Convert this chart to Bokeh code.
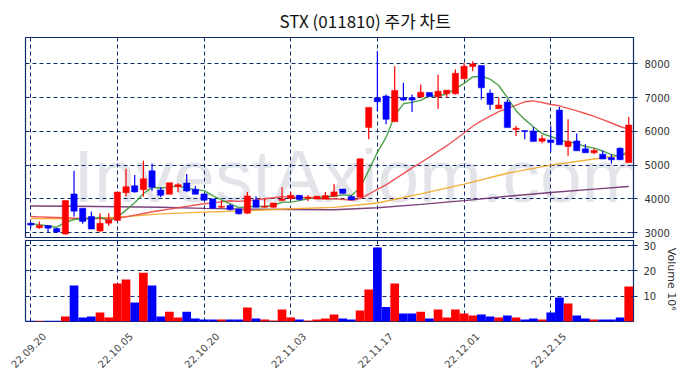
import math
from bokeh.plotting import figure
from bokeh.layouts import column
from bokeh.models import ColumnDataSource, FixedTicker, Range1d, Label, LinearAxis
from bokeh.embed import file_html
from bokeh.resources import INLINE

# ---------------- data ----------------
dates = ["22.09.20", "22.09.21", "22.09.22", "22.09.23", "22.09.26", "22.09.27", "22.09.28", "22.09.29", "22.09.30",
         "22.10.04", "22.10.05", "22.10.06", "22.10.07", "22.10.11", "22.10.12", "22.10.13", "22.10.14", "22.10.17",
         "22.10.18", "22.10.19", "22.10.20", "22.10.21", "22.10.24", "22.10.25", "22.10.26", "22.10.27", "22.10.28",
         "22.10.31", "22.11.01", "22.11.02", "22.11.03", "22.11.04", "22.11.07", "22.11.08", "22.11.09", "22.11.10",
         "22.11.11", "22.11.14", "22.11.15", "22.11.16", "22.11.17", "22.11.18", "22.11.21", "22.11.22", "22.11.23",
         "22.11.24", "22.11.25", "22.11.28", "22.11.29", "22.11.30", "22.12.01", "22.12.02", "22.12.05", "22.12.06",
         "22.12.07", "22.12.08", "22.12.09", "22.12.12", "22.12.13", "22.12.14", "22.12.15", "22.12.16", "22.12.19",
         "22.12.20", "22.12.21", "22.12.22", "22.12.23", "22.12.26", "22.12.27", "22.12.28"]

opens = [3285, 3147, 3216, 3128, 2961, 4148, 3726, 3481, 3049, 3285,
         3363, 4187, 4393, 4275, 4834, 4265, 4138, 4364, 4471, 4285,
         4148, 4001, 3755, 3804, 3706, 3579, 3971, 3755, 3755, 3952,
         4010, 4109, 4020, 4001, 4001, 4079, 4295, 4069, 4050, 6110,
         6993, 7042, 6286, 6993, 6993, 7012, 7150, 7022, 7110, 7110,
         7552, 7915, 7944, 7130, 6669, 6865, 6051, 6021, 6012, 5708,
         5747, 6630, 5551, 5717, 5482, 5364, 5325, 5227, 5502, 5080]
closes = [3226, 3216, 3137, 3020, 3952, 3638, 3334, 3108, 3285, 3383,
          4207, 4364, 4207, 4599, 4344, 4109, 4481, 4422, 4236, 4138,
          3961, 3726, 3785, 3687, 3559, 4089, 3755, 3785, 3883, 4001,
          4109, 3981, 4060, 4079, 4099, 4207, 4158, 3971, 5188, 6708,
          6875, 6355, 7209, 6924, 6924, 7159, 7032, 7189, 7218, 7719,
          7925, 7993, 7287, 6796, 6777, 6110, 6090, 5992, 5698, 5786,
          5668, 5600, 5698, 5423, 5364, 5433, 5178, 5158, 5158, 6188]
highs = [3310, 3334, 3216, 3140, 3952, 4835, 3726, 3628, 3579, 3579,
         4207, 4893, 4707, 5129, 5050, 4344, 4481, 4462, 4736, 4383,
         4148, 4001, 3952, 3853, 3706, 4207, 4079, 4001, 3883, 4344,
         4216, 4109, 4118, 4079, 4207, 4442, 4295, 4099, 5188, 6708,
         8366, 7091, 7925, 7434, 7091, 7385, 7150, 7679, 7218, 7827,
         8023, 8072, 7944, 7238, 6993, 6944, 6159, 6021, 6129, 5894,
         6159, 6718, 6355, 5933, 5619, 5502, 5423, 5325, 5521, 6424]
lows = [3150, 3118, 3020, 3010, 2941, 3481, 3265, 3108, 3029, 3206,
        3343, 4069, 4187, 4069, 4246, 4050, 4138, 4197, 4197, 4138,
        3961, 3726, 3736, 3657, 3540, 3559, 3755, 3746, 3740, 3952,
        3981, 3952, 3932, 4001, 4001, 4069, 4158, 3971, 4050, 5766,
        6600, 6208, 6286, 6895, 6571, 7012, 7032, 6669, 6993, 7091,
        7552, 7777, 6944, 6630, 6669, 6110, 5865, 5766, 5698, 5649,
        5403, 5600, 5276, 5423, 5364, 5325, 5178, 5050, 5158, 5080]
volumes = [0.3, 0.3, 0.3, 0.3, 2.0, 14.2, 1.6, 2.0, 3.6, 1.6,
           15.0, 16.6, 7.5, 19.3, 14.2, 2.0, 3.9, 1.6, 3.9, 1.2,
           0.8, 0.8, 0.8, 0.8, 0.8, 5.5, 1.2, 0.8, 0.4, 4.7,
           1.6, 0.8, 0.4, 0.8, 1.2, 2.8, 1.2, 0.8, 4.3, 12.6,
           29.2, 5.7, 15.0, 3.2, 3.2, 3.9, 1.2, 4.7, 1.6, 4.7,
           3.2, 2.4, 2.8, 2.0, 1.6, 2.4, 1.6, 0.8, 1.2, 0.8,
           3.6, 9.5, 7.1, 2.4, 1.2, 0.8, 0.8, 0.8, 1.6, 13.8]

# moving-average values before enough history is in the window
ma5_head = [3265, 3240, 3200, 3165]
ma20_head = [3480, 3470, 3460, 3450, 3440, 3430, 3420, 3420, 3420, 3420,
             3430, 3470, 3520, 3570, 3620, 3660, 3700, 3740, 3780]
ma60_idx = [0, 5, 10, 15, 20, 25, 30, 35, 40, 45, 50, 55, 60, 65, 69]
ma60_val = [3420, 3410, 3460, 3560, 3610, 3650, 3710, 3750, 3880, 4150, 4440, 4760, 5000, 5180, 5320]
ma120_idx = [0, 5, 10, 15, 20, 25, 30, 35, 40, 45, 50, 55, 60, 65, 69]
ma120_val = [3790, 3785, 3770, 3755, 3720, 3700, 3690, 3680, 3740, 3840, 3950, 4080, 4190, 4290, 4370]

price_ticks = [3000, 4000, 5000, 6000, 7000, 8000]
vol_ticks = [10, 20, 30]
title_text = "STX (011810) 주가 차트"

# ---------------- derived ----------------
n = len(closes)
idx = list(range(n))


def rolling(vals, w, head):
    out = list(head)
    for i in range(len(head), len(vals)):
        out.append(sum(vals[i - w + 1:i + 1]) / w)
    return out


ma5 = rolling(closes, 5, ma5_head)
ma20 = rolling(closes, 20, ma20_head)

UP = "#ff0000"
DOWN = "#0000ff"
colors = [UP if c >= o else DOWN for o, c in zip(opens, closes)]
src = ColumnDataSource(dict(
    x=idx, o=opens, c=closes, h=highs, l=lows,
    top=[max(o, c) for o, c in zip(opens, closes)],
    bot=[min(o, c) for o, c in zip(opens, closes)],
    vol=volumes, color=colors))

tick_idx = list(range(0, n, 10))
tick_labels = {i: dates[i] for i in tick_idx}

NAVY = "#0d2a6b"
GRID_DASH = "4 3"
FONT = "DejaVu Sans"
X0, X1 = -0.6, 69.55
xr = Range1d(X0, X1)
LABEL_SHIFT = 1.55  # centres rotated date labels under their ticks

# ---------------- price panel ----------------
p = figure(width=686, height=238, x_range=xr, y_range=Range1d(2860, 8775),
           output_backend="svg", toolbar_location=None, y_axis_location="right",
           min_border_left=25, min_border_right=53, min_border_top=36, min_border_bottom=1)
p.title.text = title_text
p.title.text_font = "Noto Sans CJK KR"
p.title.text_font_size = "17px"
p.title.text_font_style = "normal"
p.title.align = "left"
p.title.offset = 254
p.title.text_color = "#111111"
p.outline_line_color = NAVY
p.outline_line_width = 1.2

p.xaxis.visible = False
p.xgrid.ticker = FixedTicker(ticks=tick_idx)
p.yaxis.ticker = FixedTicker(ticks=price_ticks)
for g in (p.xgrid, p.ygrid):
    g.grid_line_color = NAVY
    g.grid_line_dash = GRID_DASH
    g.grid_line_width = 1
p.yaxis.axis_line_color = NAVY
p.yaxis.major_tick_line_color = NAVY
p.yaxis.minor_tick_line_color = None
p.yaxis.major_tick_out = 4
p.yaxis.major_label_standoff = 7
p.yaxis.major_label_text_font = FONT
p.yaxis.major_label_text_font_size = "10px"
p.yaxis.major_label_text_color = "#333333"

wm = Label(x=4.9, y=3450, text="InvestAxiom.com", text_font="Liberation Sans",
           text_font_size="75px", text_color="#dedee6", text_alpha=0.85, level="image")
p.add_layout(wm)

p.line(ma120_idx, ma120_val, line_color="#6e2e6e", line_width=1.4, line_alpha=0.9)
p.line(ma60_idx, ma60_val, line_color="#f5a623", line_width=1.4, line_alpha=0.9)
p.line(idx, ma20, line_color="#f04444", line_width=1.4, line_alpha=0.9)
p.line(idx, ma5, line_color="#3a9a3a", line_width=1.4, line_alpha=0.9)

p.segment(x0="x", y0="l", x1="x", y1="h", color="color", line_width=1.2, source=src)
p.vbar(x="x", top="top", bottom="bot", width=0.72, fill_color="color", line_color="color",
       line_width=0.5, source=src)

# ---------------- volume panel ----------------
v = figure(width=686, height=140, x_range=xr, y_range=Range1d(0, 32),
           output_backend="svg", toolbar_location=None, y_axis_location="right",
           x_axis_location=None,
           min_border_left=25, min_border_right=53, min_border_top=2, min_border_bottom=57)
v.outline_line_color = NAVY
v.outline_line_width = 1.2
v.vbar(x="x", top="vol", width=1.0, fill_color="color", line_color=None, source=src)

v.extra_x_ranges = {"labels": Range1d(X0 - LABEL_SHIFT, X1 - LABEL_SHIFT)}
date_axis = LinearAxis(x_range_name="labels", ticker=FixedTicker(ticks=tick_idx),
                       major_label_overrides=tick_labels,
                       major_label_orientation=math.pi / 4,
                       major_label_text_font=FONT, major_label_text_font_size="10px",
                       major_label_text_color="#444444", major_label_standoff=13,
                       axis_line_color=None, major_tick_line_color=None,
                       minor_tick_line_color=None, major_tick_out=0, major_tick_in=0)
v.add_layout(date_axis, "below")
v.xgrid.ticker = FixedTicker(ticks=tick_idx)

v.yaxis.ticker = FixedTicker(ticks=vol_ticks)
v.yaxis.axis_label = "Volume  10⁶"
v.yaxis.axis_label_text_font = FONT
v.yaxis.axis_label_text_font_size = "11px"
v.yaxis.axis_label_text_font_style = "normal"
v.yaxis.axis_label_text_color = "#333333"
v.yaxis.axis_label_standoff = 6
v.yaxis.major_label_standoff = 6
v.yaxis.major_label_text_font = FONT
v.yaxis.major_label_text_font_size = "10px"
v.yaxis.major_label_text_color = "#333333"
v.yaxis.axis_line_color = NAVY
v.yaxis.major_tick_line_color = NAVY
v.yaxis.minor_tick_line_color = None
v.yaxis.major_tick_out = 4
for g in (v.xgrid, v.ygrid):
    g.grid_line_color = NAVY
    g.grid_line_dash = GRID_DASH
    g.grid_line_width = 1

layout = column(p, v)
open("out.html", "w").write(file_html(layout, INLINE))
